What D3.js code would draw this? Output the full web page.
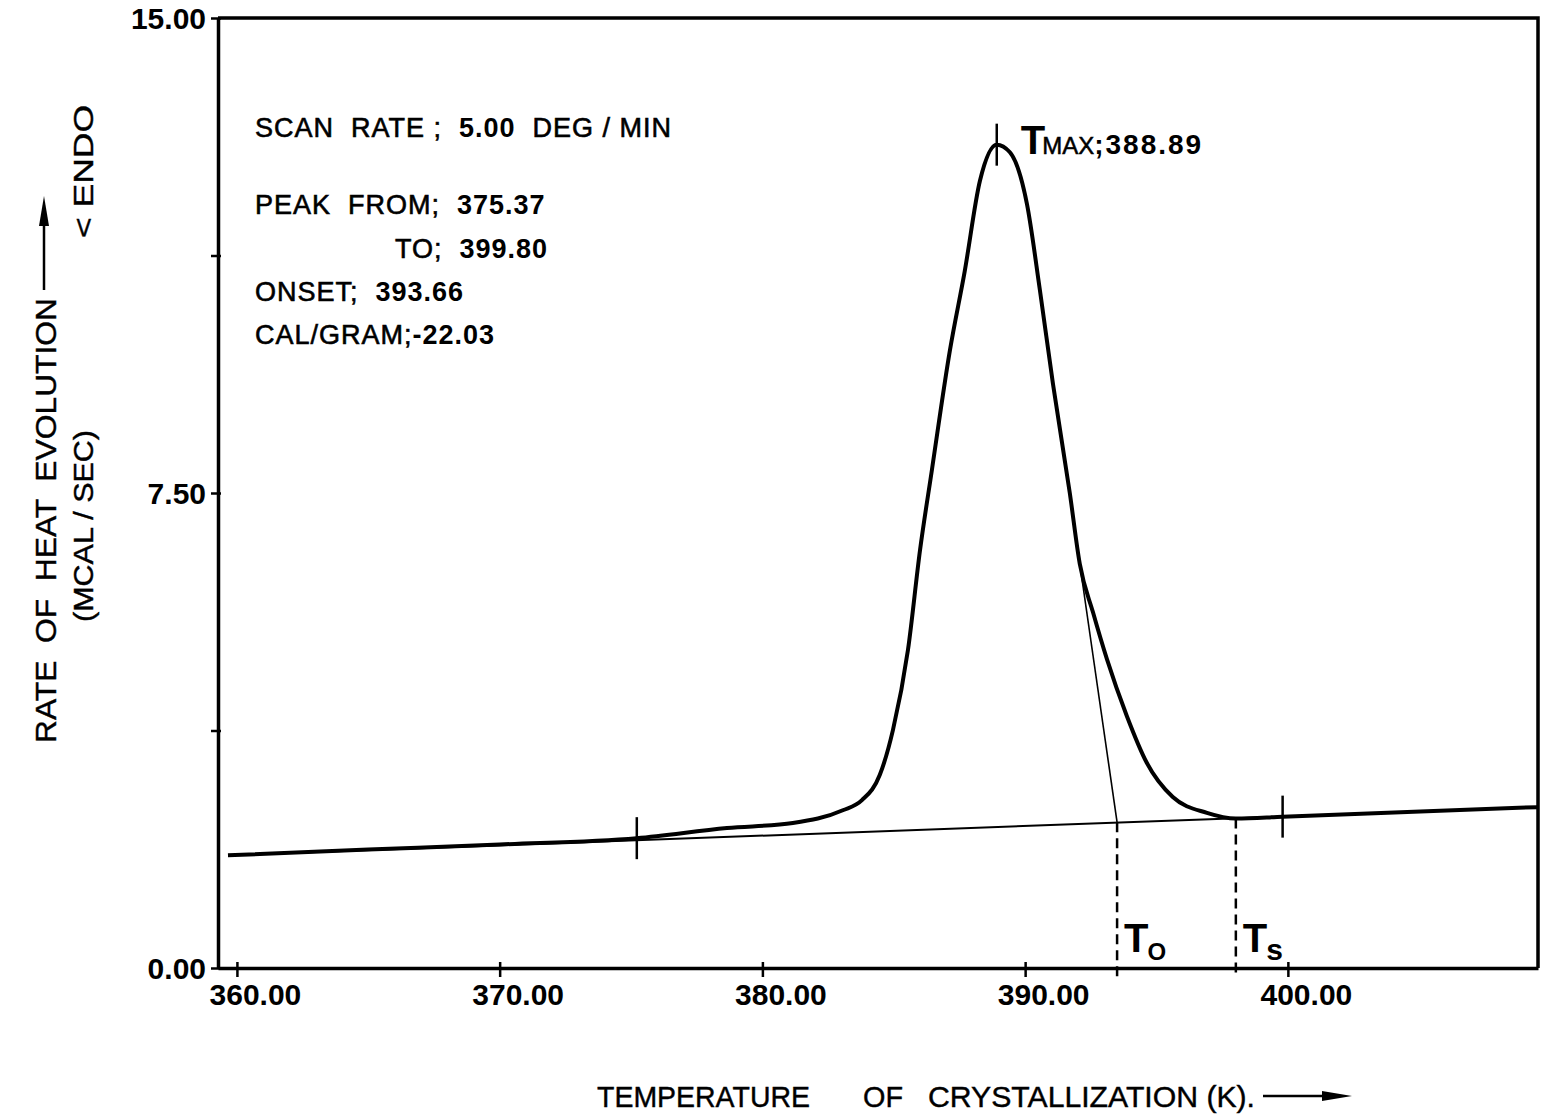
<!DOCTYPE html>
<html>
<head>
<meta charset="utf-8">
<script src="https://cdn.jsdelivr.net/npm/d3@7"></script>
<style>
  body { margin: 0; background: #fff; }
  text { font-family: "Liberation Sans", Arial, sans-serif; fill: #000; }
</style>
</head>
<body>
<div id="chart"></div>
<script>
// DSC crystallization scan
const tempTicks = [360, 370, 380, 390, 400];
const heatTicks = [0, 3.75, 7.5, 11.25, 15];
const heatLabels = [0, 7.5, 15];

// thick trace: temperature (K) and rate (mcal/sec)
const traceT = [359.66, 365.0, 370.0, 375.22, 378.65, 381.16, 383.06, 383.79, 384.47, 384.97,
  385.54, 386.00, 386.45, 387.14, 387.70, 388.28, 388.92, 389.42, 390.07, 390.56,
  391.06, 391.70, 392.08, 392.58, 393.11, 393.87, 394.63, 395.62, 396.92, 398.02,
  399.80, 409.50];
const traceV = [1.78, 1.87, 1.95, 2.05, 2.21, 2.29, 2.49, 2.65, 3.05, 3.76,
  5.02, 6.60, 7.86, 9.76, 11.00, 12.43, 13.00, 12.88, 12.06, 10.71,
  9.22, 7.50, 6.38, 5.62, 4.88, 3.98, 3.24, 2.70, 2.45, 2.36,
  2.39, 2.54];

// thin baseline and onset tangent
const baseT = [359.66, 409.50];
const baseV = [1.78, 2.54];
const tangentT = [391.90, 393.50];
const tangentV = [6.90, 2.30];

// marks on the trace (peak from, Tmax, peak to)
const markT = [375.22, 388.92, 399.80];
const markV = [2.05, 13.00, 2.39];

// dashed drops: onset (To) and end of peak (Ts)
const dropT = [393.50, 398.02];
const dropV = [2.30, 2.36];
const dropLabels = ["O", "s"];

const infoLines = [
  [["SCAN  RATE ;  ", 400], ["5.00", 700], ["  DEG / MIN", 400]],
  [["PEAK  FROM;  ", 400], ["375.37", 700]],
  [["TO;  ", 400], ["399.80", 700]],
  [["ONSET;  ", 400], ["393.66", 700]],
  [["CAL/GRAM;", 400], ["-22.03", 700]]
];

const W = 1545, H = 1116;
const svg = d3.select("#chart").append("svg")
  .attr("width", W).attr("height", H)
  .style("background", "#fff");

const x = d3.scaleLinear().domain([359.28, 409.52]).range([218, 1538]);
const y = d3.scaleLinear().domain([0, 15]).range([968, 18]);

// frame top and right
svg.append("path")
  .attr("d", `M${x.range()[0]},${y(15)}H${x.range()[1]}V${y(0)}`)
  .attr("fill", "none").attr("stroke", "#000").attr("stroke-width", 3.5);

// x axis
const gx = svg.append("g")
  .attr("transform", `translate(0,${y(0)})`)
  .call(d3.axisBottom(x).tickValues(tempTicks).tickSizeInner(9).tickSizeOuter(0).tickFormat(d => d.toFixed(2)));
gx.select(".domain").attr("stroke-width", 3.5);
gx.selectAll(".tick line").attr("y1", -6).attr("stroke-width", 2.5);
gx.selectAll(".tick text")
  .attr("x", 18).attr("y", 37).attr("dy", 0)
  .attr("font-size", 30).attr("font-weight", "bold")
  .style("font-family", "'Liberation Sans', Arial, sans-serif");

// y axis
const gy = svg.append("g")
  .attr("transform", `translate(${x.range()[0]},0)`)
  .call(d3.axisLeft(y).tickValues(heatTicks).tickSizeInner(7).tickSizeOuter(0)
    .tickFormat(d => heatLabels.includes(d) ? d.toFixed(2) : ""));
gy.select(".domain").attr("stroke-width", 3.5);
gy.selectAll(".tick line").attr("x1", 3).attr("stroke-width", 2.5);
gy.selectAll(".tick text")
  .attr("x", -12).attr("dy", "0.36em")
  .attr("font-size", 30).attr("font-weight", "bold")
  .style("font-family", "'Liberation Sans', Arial, sans-serif");

// baseline
svg.append("path")
  .datum(d3.zip(baseT, baseV))
  .attr("fill", "none").attr("stroke", "#000").attr("stroke-width", 2)
  .attr("d", d3.line().x(d => x(d[0])).y(d => y(d[1])));

// tangent
svg.append("path")
  .datum(d3.zip(tangentT, tangentV))
  .attr("fill", "none").attr("stroke", "#000").attr("stroke-width", 1.6)
  .attr("d", d3.line().x(d => x(d[0])).y(d => y(d[1])));

// trace
svg.append("path")
  .datum(d3.zip(traceT, traceV))
  .attr("fill", "none").attr("stroke", "#000").attr("stroke-width", 4)
  .attr("stroke-linejoin", "round")
  .attr("d", d3.line().x(d => x(d[0])).y(d => y(d[1])).curve(d3.curveMonotoneX));

// marks
svg.selectAll(".mark")
  .data(d3.zip(markT, markV))
  .join("line")
  .attr("class", "mark")
  .attr("x1", d => x(d[0])).attr("x2", d => x(d[0]))
  .attr("y1", d => y(d[1]) - 21).attr("y2", d => y(d[1]) + 21)
  .attr("stroke", "#000").attr("stroke-width", 2.5);

// dashed drops
svg.selectAll(".drop")
  .data(d3.zip(dropT, dropV))
  .join("line")
  .attr("class", "drop")
  .attr("x1", d => x(d[0])).attr("x2", d => x(d[0]))
  .attr("y1", d => y(d[1])).attr("y2", y(0) + 9)
  .attr("stroke", "#000").attr("stroke-width", 2.5)
  .attr("stroke-dasharray", "10,6");

svg.selectAll(".droplab")
  .data(d3.zip(dropT, dropLabels))
  .join("text")
  .attr("class", "droplab")
  .attr("x", d => x(d[0]) + 7).attr("y", 952)
  .attr("font-weight", "bold")
  .call(t => {
    t.append("tspan").attr("font-size", 40).text("T");
    t.append("tspan").attr("font-size", d => d[1] === "O" ? 24 : 30).attr("dx", -1).attr("dy", 8).text(d => d[1]);
  });

// Tmax label
svg.append("text")
  .attr("x", x(markT[1]) + 24).attr("y", 154)
  .call(t => {
    t.append("tspan").attr("font-size", 40).attr("font-weight", "bold").text("T");
    t.append("tspan").attr("font-size", 24).attr("dx", -3)
      .attr("stroke", "#000").attr("stroke-width", 0.5).text("MAX");
    t.append("tspan").attr("font-size", 28).attr("font-weight", "bold")
      .attr("letter-spacing", 2).text(";388.89");
  });

// info block
const infoX = [255, 255, 395, 255, 255];
const infoY = [137, 214, 258, 301, 344];
infoLines.forEach((parts, i) => {
  const t = svg.append("text")
    .attr("x", infoX[i]).attr("y", infoY[i])
    .attr("font-size", 27)
    .attr("letter-spacing", 1)
    .style("white-space", "pre");
  parts.forEach(p => t.append("tspan")
    .attr("font-weight", p[1])
    .attr("stroke", p[1] < 700 ? "#000" : null)
    .attr("stroke-width", p[1] < 700 ? 0.6 : null)
    .text(p[0]));
});

// x axis title
const xt = [["TEMPERATURE", 597, 213], ["OF", 863, 40], ["CRYSTALLIZATION (K).", 928, 327]];
xt.forEach(d => {
  svg.append("text")
    .attr("x", d[1]).attr("y", 1107)
    .attr("font-size", 29)
    .attr("stroke", "#000").attr("stroke-width", 0.4)
    .attr("textLength", d[2]).attr("lengthAdjust", "spacingAndGlyphs")
    .text(d[0]);
});
svg.append("line")
  .attr("x1", 1263).attr("x2", 1325).attr("y1", 1096).attr("y2", 1096)
  .attr("stroke", "#000").attr("stroke-width", 2.5);
svg.append("path")
  .attr("d", "M1322,1091L1352,1096L1322,1101Z").attr("fill", "#000");

// y axis titles
const yt = [["RATE  OF  HEAT  EVOLUTION", 56, 743, 445, 29],
            ["(MCAL / SEC)", 93, 622, 192, 27],
            ["< ENDO", 93, 238, 133, 28]];
yt.forEach(d => {
  svg.append("text")
    .attr("transform", `translate(${d[1]},${d[2]}) rotate(-90)`)
    .attr("font-size", d[4])
    .attr("stroke", "#000").attr("stroke-width", 0.4)
    .attr("textLength", d[3]).attr("lengthAdjust", "spacingAndGlyphs")
    .style("white-space", "pre")
    .text(d[0]);
});
svg.append("line")
  .attr("x1", 44).attr("x2", 44).attr("y1", 290).attr("y2", 222)
  .attr("stroke", "#000").attr("stroke-width", 2.5);
svg.append("path")
  .attr("d", "M39,226L44,196L49,226Z").attr("fill", "#000");
</script>
</body>
</html>
